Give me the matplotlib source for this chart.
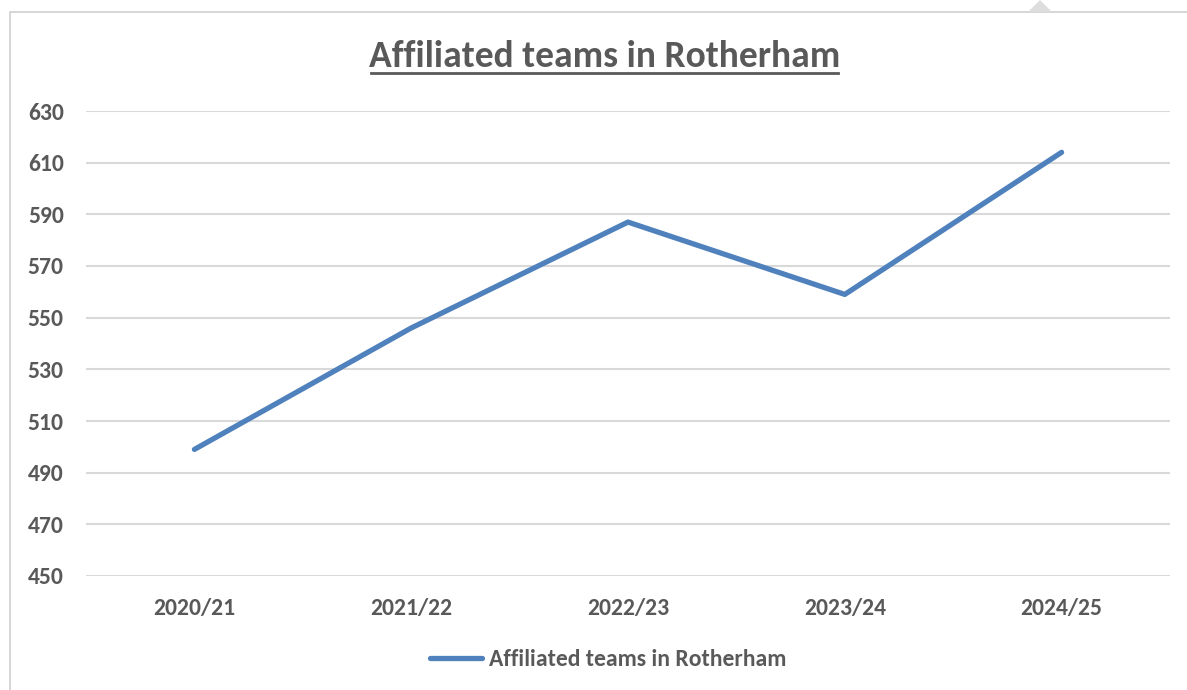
import matplotlib.pyplot as plt
from matplotlib.patches import Rectangle, Polygon

# Season labels and affiliated team counts
seasons = ["2020/21", "2021/22", "2022/23", "2023/24", "2024/25"]
teams = [499, 546, 587, 559, 614]
y_ticks = [450, 470, 490, 510, 530, 550, 570, 590, 610, 630]

title = "Affiliated teams in Rotherham"
text_col = "#595959"
line_col = "#4F81BD"
grid_col = "#D9D9D9"

plt.rcParams['font.family'] = ['Carlito', 'DejaVu Sans']

W, H = 1187, 690
fig = plt.figure(figsize=(W / 100, H / 100), dpi=100)
fig.patch.set_facecolor("white")

# chart frame border and the little tab at the top
fig.patches.append(Rectangle((10 / W, -0.1), 1.2, 0.1 + (1 - 12 / H),
                             transform=fig.transFigure, fill=False,
                             edgecolor="#D0D0D0", linewidth=1.2))
fig.patches.append(Polygon([(1028 / W, 1 - 12 / H), (1052 / W, 1 - 12 / H),
                            (1040 / W, 1.0)], closed=True,
                           transform=fig.transFigure, facecolor="#DDDDDD",
                           edgecolor="none"))

ax = fig.add_axes([86 / W, 1 - 576 / H, (1170 - 86) / W, (576 - 111) / H])
x = list(range(len(seasons)))
ax.plot(x, teams, color=line_col, linewidth=3.8, solid_capstyle="round",
        solid_joinstyle="round", label=title, zorder=3)

ax.set_xlim(-0.5, len(seasons) - 0.5)
ax.set_ylim(450, 630)
ax.set_yticks(y_ticks)
ax.set_xticks(x)
ax.set_xticklabels(seasons)
ax.grid(axis="y", color=grid_col, linewidth=1.5)
ax.set_axisbelow(True)
for s in ax.spines.values():
    s.set_visible(False)
ax.tick_params(length=0, labelsize=17, labelcolor=text_col)
ax.tick_params(axis="y", pad=16)
ax.tick_params(axis="x", pad=16)
for lbl in ax.get_xticklabels() + ax.get_yticklabels():
    lbl.set_fontweight("bold")

t = fig.text(605 / W, 1 - 67 / H, title, ha="center", va="baseline",
             fontsize=27, fontweight="bold", color=text_col)
# underline matched to the title's drawn width (minus side bearings)
fig.canvas.draw()
bb = t.get_window_extent()
x0, x1 = (bb.x0 + 2) / W, (bb.x1 - 3) / W
fig.add_artist(plt.Line2D([x0, x1], [1 - 72.5 / H, 1 - 72.5 / H],
                          color=text_col, linewidth=2.0))

leg = fig.legend(loc="center", bbox_to_anchor=(608 / W, 1 - 660 / H),
                 frameon=False, handlelength=2.2, handletextpad=0.3,
                 prop={"size": 17, "weight": "bold"})
for txt in leg.get_texts():
    txt.set_color(text_col)

fig.savefig("out.png", dpi=100)
